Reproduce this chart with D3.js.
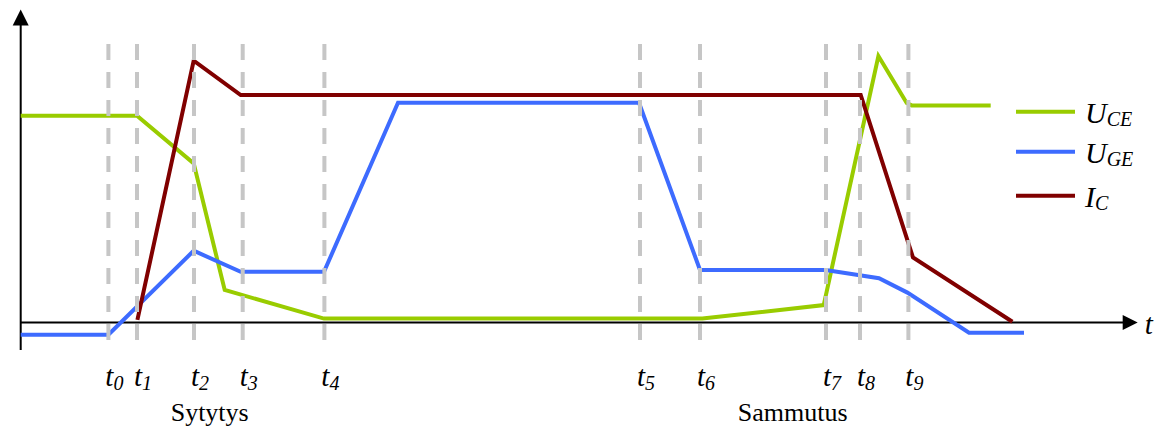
<!DOCTYPE html>
<html>
<head>
<meta charset="utf-8">
<script src="https://cdn.jsdelivr.net/npm/d3@7"></script>
<style>
  html, body { margin: 0; padding: 0; background: #fff; }
  svg { display: block; }
</style>
</head>
<body>
<svg id="chart" width="1163" height="429"></svg>
<script>
// IGBT switching waveforms: turn-on (Sytytys) and turn-off (Sammutus)

// switching instants
const tickNames = ["0", "1", "2", "3", "4", "5", "6", "7", "8", "9"];
const tickTimes = [8.77, 11.63, 17.33, 22.2, 30.37, 61.93, 67.93, 80.53, 83.93, 88.77];

// phase labels
const phaseNames = ["Sytytys", "Sammutus"];
const phaseTimes = [18.9, 77.2];

// collector-emitter voltage U_CE
const uceTime  = [0, 11.63, 17.3, 20.4, 30.33, 68.17, 80.3, 85.77, 88.6, 89.1, 97];
const uceValue = [79.5, 79.5, 61.2, 12.5, 1.5, 1.5, 6.7, 102.5, 84.4, 83.5, 83.5];

// gate-emitter voltage U_GE
const ugeTime  = [0, 8.77, 17.3, 22.0, 30.33, 37.73, 61.83, 67.93, 80.5, 85.83, 88.67, 94.83, 100.33];
const ugeValue = [-4.7, -4.7, 27.6, 19.5, 19.5, 84.5, 84.5, 20.2, 20.2, 17.0, 11.5, -3.9, -3.9];

// collector current I_C
const icTime  = [11.67, 17.3, 22.0, 84.0, 89.23, 99.17];
const icValue = [1.0, 100.7, 87.5, 87.5, 25.0, 0.3];

const seriesNames = ["CE", "GE", "C"];
const seriesMain  = ["U", "U", "I"];
const seriesColors = ["#99cc00", "#3d6bff", "#800000"];

const series = [
  { main: seriesMain[0], sub: seriesNames[0], color: seriesColors[0], t: uceTime, v: uceValue },
  { main: seriesMain[1], sub: seriesNames[1], color: seriesColors[1], t: ugeTime, v: ugeValue },
  { main: seriesMain[2], sub: seriesNames[2], color: seriesColors[2], t: icTime,  v: icValue }
];

const FONT = "Liberation Serif";

const svg = d3.select("#chart").attr("font-family", FONT);

const x = d3.scaleLinear().domain([0, 111.7]).range([20.7, 1137.7]);
const y = d3.scaleLinear().domain([0, 100]).range([322.5, 62.5]);

const yTop = 120.4, yBottom = -10.6;      // extent of the vertical axis
const dashTop = 107.1, dashBottom = -6.7; // extent of the instant markers

// axes
const axes = svg.append("g");
axes.append("line")
  .attr("x1", x(0)).attr("x2", x(0))
  .attr("y1", y(yBottom)).attr("y2", y(yTop) + 14)
  .attr("stroke", "#000").attr("stroke-width", 2);
axes.append("path")
  .attr("d", `M${x(0)},${y(yTop)} L${x(0) - 8},${y(yTop) + 16} L${x(0) + 8},${y(yTop) + 16} Z`)
  .attr("fill", "#000");

axes.append("line")
  .attr("x1", x(0)).attr("x2", x(111.7) - 14)
  .attr("y1", y(0)).attr("y2", y(0))
  .attr("stroke", "#000").attr("stroke-width", 2);
axes.append("path")
  .attr("d", `M${x(111.7)},${y(0)} L${x(111.7) - 15},${y(0) - 7.5} L${x(111.7) - 15},${y(0) + 7.5} Z`)
  .attr("fill", "#000");
axes.append("text")
  .attr("x", x(111.7) + 7).attr("y", y(0) + 11)
  .attr("font-family", FONT)
  .attr("font-size", 29).attr("font-style", "italic")
  .text("t");

// waveforms
const line = d3.line().x(d => x(d[0])).y(d => y(d[1]));
svg.append("g").selectAll("path")
  .data(series)
  .join("path")
  .attr("d", s => line(s.t.map((t, i) => [t, s.v[i]])))
  .attr("fill", "none")
  .attr("stroke", s => s.color)
  .attr("stroke-width", 4)
  .attr("stroke-linejoin", "miter");

// switching instant markers
svg.append("g").selectAll("line")
  .data(tickTimes)
  .join("line")
  .attr("x1", d => x(d)).attr("x2", d => x(d))
  .attr("y1", y(dashTop)).attr("y2", y(dashBottom))
  .attr("stroke", "#c6c6c6")
  .attr("stroke-width", 4)
  .attr("stroke-dasharray", "16,12");

// instant labels t0..t9
const tl = svg.append("g").selectAll("text")
  .data(tickTimes)
  .join("text")
  .attr("x", d => x(d) + 6)
  .attr("y", 386)
  .attr("text-anchor", "middle")
  .attr("font-family", FONT)
  .attr("font-style", "italic")
  .attr("font-size", 29);
tl.append("tspan").text("t");
tl.append("tspan").attr("font-size", 20).attr("dy", 4).text((d, i) => tickNames[i]);

// phase labels
svg.append("g").selectAll("text")
  .data(phaseTimes)
  .join("text")
  .attr("x", d => x(d))
  .attr("y", 421)
  .attr("text-anchor", "middle")
  .attr("font-family", FONT)
  .attr("font-size", 26)
  .text((d, i) => phaseNames[i]);

// legend
const legendY = [111.7, 151.7, 195.7];
const lg = svg.append("g").selectAll("g")
  .data(series)
  .join("g")
  .attr("transform", (d, i) => `translate(1016,${legendY[i]})`);
lg.append("line")
  .attr("x1", 0).attr("x2", 59).attr("y1", 0).attr("y2", 0)
  .attr("stroke", d => d.color).attr("stroke-width", 4);
const lt = lg.append("text")
  .attr("x", 69).attr("y", 11.5)
  .attr("font-family", FONT)
  .attr("font-style", "italic")
  .attr("font-size", 30);
lt.append("tspan").text(d => d.main);
lt.append("tspan").attr("font-size", 20).attr("dy", 3).text(d => d.sub);
</script>
</body>
</html>
